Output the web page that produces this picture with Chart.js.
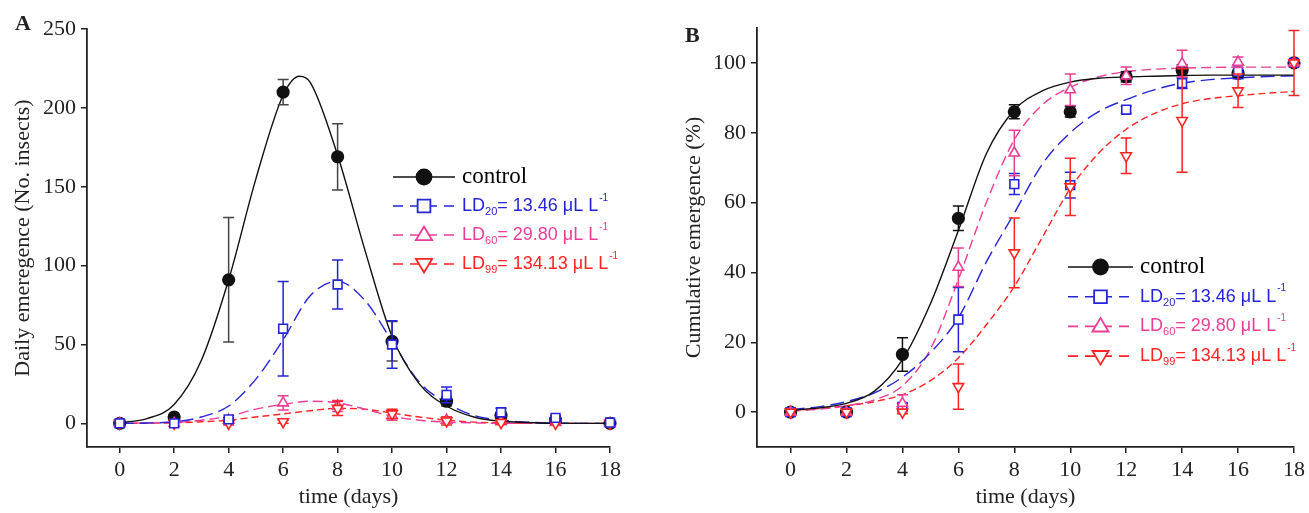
<!DOCTYPE html>
<html>
<head>
<meta charset="utf-8">
<script src="https://cdn.jsdelivr.net/npm/chart.js@4.4.1/dist/chart.umd.min.js"></script>
<style>
  html, body { margin: 0; padding: 0; background: #fff; }
  #wrap { position: relative; width: 1309px; height: 513px; }
  .panel { position: absolute; top: 0; height: 513px; }
  #panelA { left: 0; width: 655px; }
  #panelB { left: 655px; width: 654px; }
</style>
</head>
<body>
<div id="wrap">
  <div class="panel" id="panelA"><canvas id="chartA"></canvas></div>
  <div class="panel" id="panelB"><canvas id="chartB"></canvas></div>
</div>
<script>
// sampling days and axis ticks
const days = [0, 2, 4, 6, 8, 10, 12, 14, 16, 18];
const xTicks = [0, 2, 4, 6, 8, 10, 12, 14, 16, 18];
const yTicksA = [0, 50, 100, 150, 200, 250];
const yTicksB = [0, 20, 40, 60, 80, 100];

// legend text
const seriesNames = ['control', 'LD', 'LD', 'LD'];
const ldSubs = ['', '20', '60', '99'];
const ldDoses = ['', '13.46', '29.80', '134.13'];

// A - daily emergence, mean and error
const dailyControl = [0, 4, 91, 210, 169, 52, 14, 5, 2, 0];
const dailyControlErr = [0, 1, 39.5, 8, 21, 12.5, 3, 2, 1, 0];
const dailyLD20 = [0, 0, 2.5, 60, 88, 50, 18, 7, 3.5, 0.5];
const dailyLD20Err = [0, 0, 1, 30, 15.5, 15, 5, 2.5, 1.5, 0];
const dailyLD60 = [0, 0, 2, 13, 11, 5, 2, 1, 0.5, 0];
const dailyLD60Err = [0, 0, 1, 4.5, 3.5, 3, 2, 1, 0.5, 0];
const dailyLD99 = [0, 0, 0, 1, 9.5, 6, 1.5, 0.5, 0, 0];
const dailyLD99Err = [0, 0, 1, 1, 4.5, 3, 2.5, 1, 0.5, 0];

// A - fitted curves
const fitDays = [0, 1, 2, 3, 4, 5, 6, 7, 8, 9, 10, 11, 12, 13, 14, 15, 16, 17, 18];
const fitDaysCtrlA = [0, 1, 2, 3, 4, 5, 6, 6.6, 7, 8, 9, 10, 11, 12, 13, 14, 15, 16, 17, 18];
const dailyControlFit = [0.5, 3, 12, 40, 91, 155, 208, 220, 216, 170, 110, 55, 25, 11, 4, 1.3, 0.5, 0, 0, 0];
const dailyLD20Fit = [0, 0.2, 1, 4, 11, 28, 53, 81, 90, 78, 52, 26, 13, 5, 2, 0.7, 0.2, 0, 0];
const dailyLD60Fit = [0, 0.2, 0.5, 2, 4.5, 9, 12, 14, 13, 9, 4.5, 2, 0.8, 0.3, 0, 0, 0, 0, 0];
const dailyLD99Fit = [0, 0.1, 0.3, 1, 2, 4, 6, 8, 9.5, 9, 6.5, 4, 2, 0.8, 0.3, 0, 0, 0, 0];

// B - cumulative emergence (%), mean and error
const cumControl = [0, 0, 16.5, 55.5, 86, 86, 96, 98, 97, 100];
const cumControlErr = [0, 0, 4.8, 3.5, 2, 1.5, 1.5, 1.5, 1, 0.5];
const cumLD20 = [0, 0, 1.5, 26.5, 65.3, 65, 86.6, 94.2, 97.5, 100];
const cumLD20Err = [0, 0, 1, 9.2, 3, 3.7, 1, 1.5, 2, 0.5];
const cumLD60 = [0, 0, 2.5, 41.5, 74.2, 92.3, 96.3, 99.8, 100.2, 100];
const cumLD60Err = [0, 0, 2.5, 5.5, 6.5, 4.5, 2.5, 3.8, 1.5, 0.5];
const cumLD99 = [0, 0, 0, 7.3, 45.6, 64.5, 73.4, 83.5, 92, 100];
const cumLD99Err = [0, 0, 0.5, 6.5, 10, 8.2, 5.1, 14.8, 4.8, 9.3];

// B - fitted curves
const cumControlFit = [0.5, 1.2, 2.5, 6, 15, 31, 52, 74, 86.5, 92, 94.5, 95.6, 96, 96.2, 96.4, 96.5, 96.5, 96.5, 96.5];
const cumLD20Fit = [0.8, 1.5, 3, 5.5, 10, 17, 27, 43, 57, 71, 80, 86, 89.5, 92.3, 94.2, 95.2, 95.7, 96.1, 96.3];
const cumLD60Fit = [0.3, 0.8, 1.8, 3.5, 7.5, 18, 38, 60, 78, 88, 93, 96, 97.5, 98.2, 98.5, 98.7, 98.8, 98.8, 98.8];
const cumLD99Fit = [0.5, 1, 1.8, 3, 5, 9, 15.5, 25, 36, 50, 64, 74, 81, 85.5, 88.3, 89.8, 90.6, 91.3, 91.8];

const BLACK = '#111';
const BLUE = '#2424d8';
const PINK = '#ec3d96';
const RED = '#ff2424';
const colors = [BLACK, BLUE, PINK, RED];
const dashes = [[], [14, 6], [10, 5], [7, 4]];
const styles = ['circle', 'rect', 'triangle', 'triangle'];
const rotations = [0, 0, 0, 180];

const pts = (xs, ys) => xs.map((x, i) => ({ x: x, y: ys[i] }));

function markerSet(values, errs, idx, errColor) {
  return {
    data: pts(days, values),
    errors: errs,
    errorColor: errColor || colors[idx],
    showLine: false,
    pointStyle: styles[idx],
    pointRotation: rotations[idx],
    pointRadius: idx === 0 ? 5.8 : (idx === 1 ? 6.2 : 6),
    pointBorderWidth: 1.6,
    pointBorderColor: colors[idx],
    pointBackgroundColor: idx === 0 ? BLACK : '#fff',
    clip: false
  };
}

function curveSet(xs, values, idx) {
  return {
    data: pts(xs, values),
    showLine: true,
    borderColor: colors[idx],
    borderWidth: 1.4,
    borderDash: dashes[idx],
    cubicInterpolationMode: 'monotone',
    pointRadius: 0,
    clip: false
  };
}

const errorBars = {
  id: 'errorBars',
  beforeDatasetDraw(chart, args) {
    const ds = chart.data.datasets[args.index];
    if (!ds.errors) return;
    const ctx = chart.ctx;
    const yScale = chart.scales.y;
    ctx.save();
    ctx.strokeStyle = ds.errorColor;
    ctx.lineWidth = 1.5;
    args.meta.data.forEach((pt, i) => {
      const e = ds.errors[i];
      if (!e) return;
      const v = ds.data[i].y;
      const top = yScale.getPixelForValue(v + e);
      const bot = yScale.getPixelForValue(v - e);
      ctx.beginPath();
      ctx.moveTo(pt.x, top); ctx.lineTo(pt.x, bot);
      ctx.moveTo(pt.x - 5.5, top); ctx.lineTo(pt.x + 5.5, top);
      ctx.moveTo(pt.x - 5.5, bot); ctx.lineTo(pt.x + 5.5, bot);
      ctx.stroke();
    });
    ctx.restore();
  }
};

function drawMarker(ctx, idx, x, y, r) {
  ctx.save();
  ctx.lineWidth = 1.8;
  ctx.strokeStyle = colors[idx];
  ctx.fillStyle = idx === 0 ? BLACK : '#fff';
  ctx.beginPath();
  if (idx === 0) {
    ctx.arc(x, y, r, 0, Math.PI * 2);
  } else if (idx === 1) {
    ctx.rect(x - r * 0.75, y - r * 0.75, r * 1.5, r * 1.5);
  } else {
    const s = idx === 2 ? 1 : -1;
    ctx.moveTo(x, y - s * r);
    ctx.lineTo(x + r * 0.95, y + s * r * 0.6);
    ctx.lineTo(x - r * 0.95, y + s * r * 0.6);
    ctx.closePath();
  }
  ctx.fill();
  ctx.stroke();
  ctx.restore();
}

const legendBox = {
  id: 'legendBox',
  afterDraw(chart, args, opts) {
    const ctx = chart.ctx;
    ctx.save();
    // panel letter
    ctx.fillStyle = '#222';
    ctx.font = 'bold 22px "Liberation Serif"';
    ctx.textBaseline = 'alphabetic';
    ctx.fillText(opts.letter, opts.letterX, opts.letterY);

    seriesNames.forEach((name, i) => {
      const y = opts.y + i * opts.gap;
      const x0 = opts.x;
      ctx.strokeStyle = colors[i];
      ctx.lineWidth = 1.6;
      ctx.setLineDash(dashes[i].length ? [10, 7] : []);
      ctx.beginPath();
      ctx.moveTo(x0, y); ctx.lineTo(x0 + opts.len, y);
      ctx.stroke();
      ctx.setLineDash([]);
      drawMarker(ctx, i, x0 + opts.len / 2, y, i === 0 ? 7.5 : 8.5);

      let tx = x0 + opts.len + 7;
      ctx.fillStyle = colors[i];
      ctx.textBaseline = 'middle';
      if (i === 0) {
        ctx.fillStyle = '#000';
        ctx.font = '23px "Liberation Serif"';
        ctx.fillText(name, tx, y);
        return;
      }
      ctx.font = '18px "Liberation Sans"';
      ctx.fillText(name, tx, y);
      tx += ctx.measureText(name).width;
      ctx.font = '11px "Liberation Sans"';
      ctx.fillText(ldSubs[i], tx, y + 6);
      tx += ctx.measureText(ldSubs[i]).width;
      ctx.font = '18px "Liberation Sans"';
      const body = '= ' + ldDoses[i] + ' \u03bcL L';
      ctx.fillText(body, tx, y);
      tx += ctx.measureText(body).width;
      ctx.font = '10px "Liberation Sans"';
      ctx.fillText('-1', tx + 1, y - 8);
    });
    ctx.restore();
  }
};

function buildChart(id, opt) {
  return new Chart(document.getElementById(id), {
    type: 'scatter',
    data: { datasets: opt.datasets },
    plugins: [errorBars, legendBox],
    options: {
      responsive: true,
      maintainAspectRatio: false,
      animation: false,
      layout: { padding: opt.padding },
      plugins: {
        legend: { display: false },
        tooltip: { enabled: false },
        legendBox: opt.legend
      },
      scales: {
        x: {
          type: 'linear',
          min: -1.2,
          max: 18,
          afterBuildTicks: s => { s.ticks = xTicks.map(v => ({ value: v })); },
          afterFit: s => { s.height = 66; },
          grid: { drawOnChartArea: false, drawTicks: true, tickLength: 6, color: '#222', lineWidth: 1.5 },
          border: { display: true, color: '#222', width: 1.8 },
          ticks: { color: '#222', padding: 4, font: { family: 'Liberation Serif', size: 22 } },
          title: {
            display: true, text: 'time (days)', color: '#222',
            padding: { top: 0, bottom: 3 },
            font: { family: 'Liberation Serif', size: 22 }
          }
        },
        y: {
          min: opt.yMin,
          max: opt.yMax,
          afterBuildTicks: s => { s.ticks = opt.yTicks.map(v => ({ value: v })); },
          afterFit: s => { s.width = opt.yWidth; },
          grid: { drawOnChartArea: false, drawTicks: true, tickLength: 6, color: '#222', lineWidth: 1.5 },
          border: { display: true, color: '#222', width: 1.8 },
          ticks: { color: '#222', padding: 5, font: { family: 'Liberation Serif', size: 22 } },
          title: {
            display: true, text: opt.yTitle, color: '#222',
            padding: { top: opt.yTitlePad, bottom: 0 },
            font: { family: 'Liberation Serif', size: 22 }
          }
        }
      }
    }
  });
}

// dataset 0 is drawn on top: markers first, then the fitted curves underneath
buildChart('chartA', {
  datasets: [
    markerSet(dailyLD20, dailyLD20Err, 1),
    markerSet(dailyLD99, dailyLD99Err, 3),
    markerSet(dailyLD60, dailyLD60Err, 2),
    markerSet(dailyControl, dailyControlErr, 0, '#444'),
    curveSet(fitDaysCtrlA, dailyControlFit, 0),
    curveSet(fitDays, dailyLD20Fit, 1),
    curveSet(fitDays, dailyLD60Fit, 2),
    curveSet(fitDays, dailyLD99Fit, 3)
  ],
  padding: { left: 0, right: 45, top: 29, bottom: 0 },
  yMin: -15, yMax: 250, yTicks: yTicksA, yWidth: 87, yTitlePad: 10,
  yTitle: 'Daily emeregence (No. insects)',
  legend: { letter: 'A', letterX: 15, letterY: 30, x: 393, y: 177, gap: 29, len: 62 }
});

buildChart('chartB', {
  datasets: [
    markerSet(cumLD99, cumLD99Err, 3),
    markerSet(cumLD60, cumLD60Err, 2),
    markerSet(cumLD20, cumLD20Err, 1),
    markerSet(cumControl, cumControlErr, 0),
    curveSet(fitDays, cumControlFit, 0),
    curveSet(fitDays, cumLD20Fit, 1),
    curveSet(fitDays, cumLD60Fit, 2),
    curveSet(fitDays, cumLD99Fit, 3)
  ],
  padding: { left: 0, right: 14, top: 28, bottom: 0 },
  yMin: -10, yMax: 110, yTicks: yTicksB, yWidth: 102, yTitlePad: 26,
  yTitle: 'Cumulative emergence (%)',
  legend: { letter: 'B', letterX: 30, letterY: 42, x: 413, y: 267, gap: 29.7, len: 65 }
});
</script>
</body>
</html>
